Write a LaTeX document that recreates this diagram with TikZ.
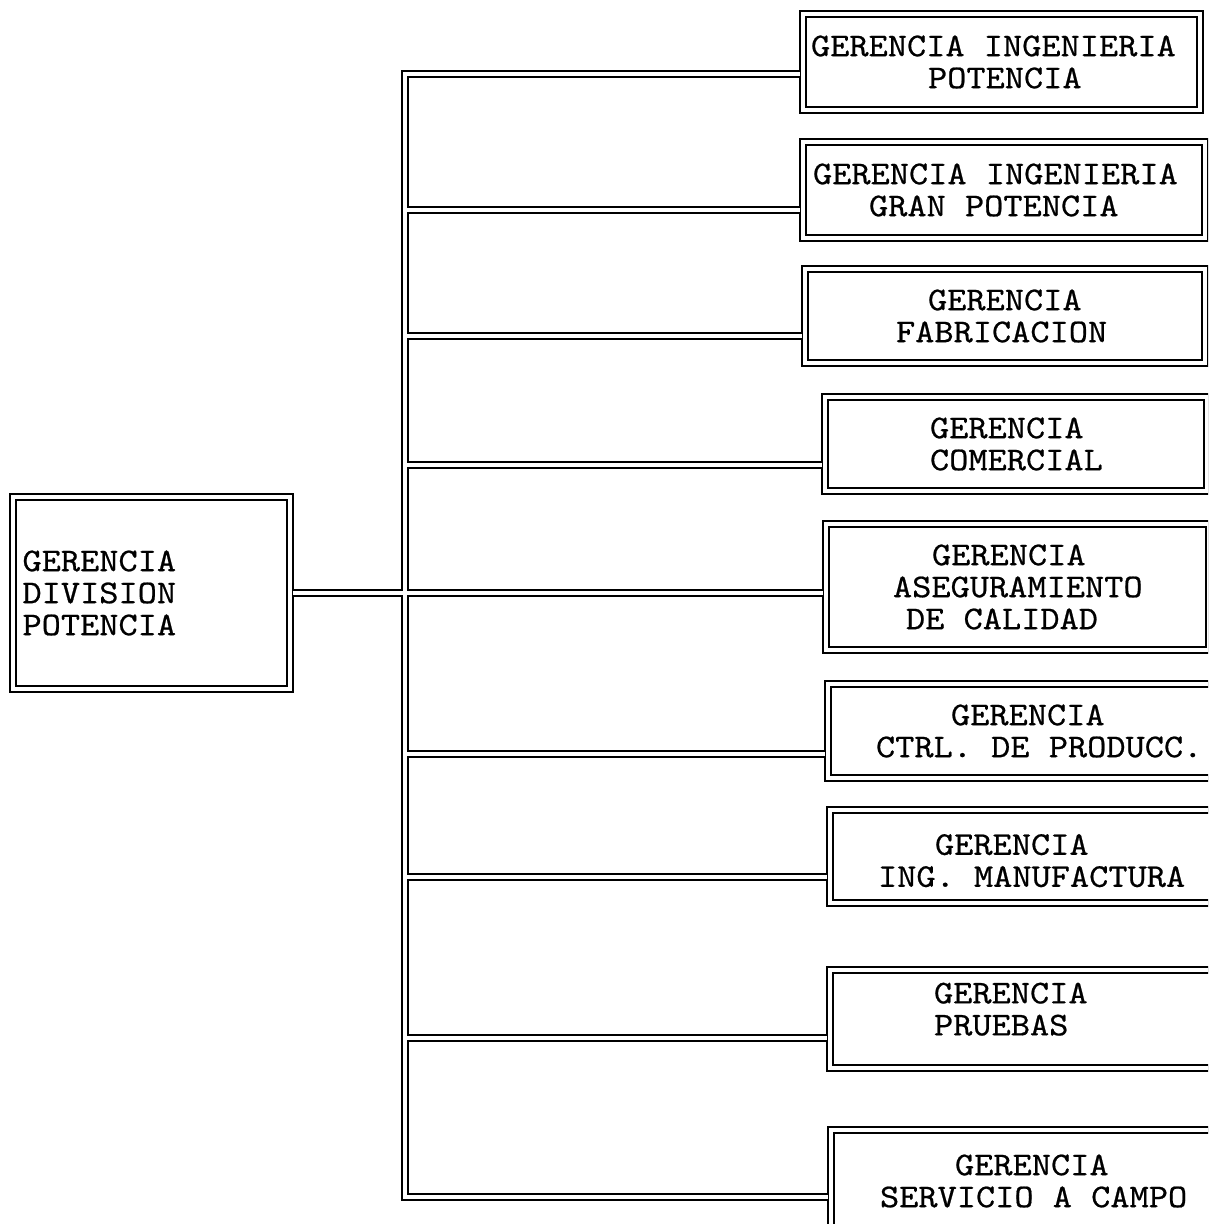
\documentclass[tikz,border=0pt]{standalone}
\usepackage{fontspec}
\newfontfamily\boxmono{lmmono10-regular.otf}[FakeStretch=1.1,FakeBold=0.6]
\newcommand{\boxfont}{\boxmono\fontsize{33.25}{32}\selectfont\frenchspacing}
\begin{document}
\begin{tikzpicture}[x=1pt,y=-1pt,
  box/.style={draw, double, line width=2pt, double distance=4pt, inner sep=0pt,
    align=left, font=\boxfont,
    execute at begin node={\spaceskip=19.2pt\relax\xspaceskip=19.2pt\relax}},
  conn/.style={draw, double, line width=2pt, double distance=4pt, line join=miter}]
\useasboundingbox (0,0) rectangle (1208,1224);
\clip (0,0) rectangle (1208,1224);

% main box
\node[box, text width=277.5pt, minimum height=192pt] (main) at (151.25,593)
  {\hspace*{10pt}GERENCIA\\\hspace*{10pt}DIVISION\\\hspace*{10pt}POTENCIA};

% subordinate boxes
\node[box, text width=397pt, minimum height=96pt] (b1) at (1001.5,62)
  {\hspace*{8pt}GERENCIA INGENIERIA\\\hspace*{125pt}POTENCIA};
\node[box, text width=402pt, minimum height=96pt] (b2) at (1004,190)
  {\hspace*{10pt}GERENCIA INGENIERIA\\\hspace*{66pt}GRAN POTENCIA};
\node[box, text width=400pt, minimum height=94pt] (b3) at (1005,316)
  {\hspace*{123pt}GERENCIA\\\hspace*{91pt}FABRICACION};
\node[box, text width=382pt, minimum height=94pt] (b4) at (1016,444)
  {\hspace*{105pt}GERENCIA\\\hspace*{105pt}COMERCIAL};
\node[box, text width=383pt, minimum height=126pt] (b5) at (1017.5,587)
  {\hspace*{106pt}GERENCIA\\\hspace*{67pt}ASEGURAMIENTO\\\hspace*{80pt}DE CALIDAD};
\node[box, text width=412pt, minimum height=94pt] (b6) at (1034,731)
  {\hspace*{123pt}GERENCIA\\\hspace*{48pt}CTRL. DE PRODUCC.};
\node[box, text width=410pt, minimum height=93pt] (b7) at (1035,856.5)
  {\rule{0pt}{29pt}\hspace*{105pt}GERENCIA\\\hspace*{48pt}ING. MANUFACTURA};
\node[box, text width=410pt, minimum height=98pt] (b8) at (1035,1019)
  {\hspace*{104pt}GERENCIA\\\hspace*{104pt}PRUEBAS\rule[-20pt]{0pt}{20pt}};
\node[box, text width=409pt, minimum height=102pt] (b9) at (1035.5,1181)
  {\hspace*{124pt}GERENCIA\\\hspace*{49pt}SERVICIO A CAMPO};

% trunk junctions
\coordinate (t1) at (405,74);
\coordinate (t2) at (405,210);
\coordinate (t3) at (405,336);
\coordinate (t4) at (405,465);
\coordinate (t5) at (405,593);
\coordinate (t6) at (405,754);
\coordinate (t7) at (405,877);
\coordinate (t8) at (405,1038);
\coordinate (t9) at (405,1197);

\draw[conn]
  ([xshift=-2pt]b1.west |- t1) -- (t1) -- (t9) -- ([xshift=-2pt]b9.west |- t9)
  (t2) -- ([xshift=-2pt]b2.west |- t2)
  (t3) -- ([xshift=-2pt]b3.west |- t3)
  (t4) -- ([xshift=-2pt]b4.west |- t4)
  ([xshift=2pt]main.east) -- (t5) -- ([xshift=-2pt]b5.west |- t5)
  (t6) -- ([xshift=-2pt]b6.west |- t6)
  (t7) -- ([xshift=-2pt]b7.west |- t7)
  (t8) -- ([xshift=-2pt]b8.west |- t8);
\end{tikzpicture}
\end{document}
